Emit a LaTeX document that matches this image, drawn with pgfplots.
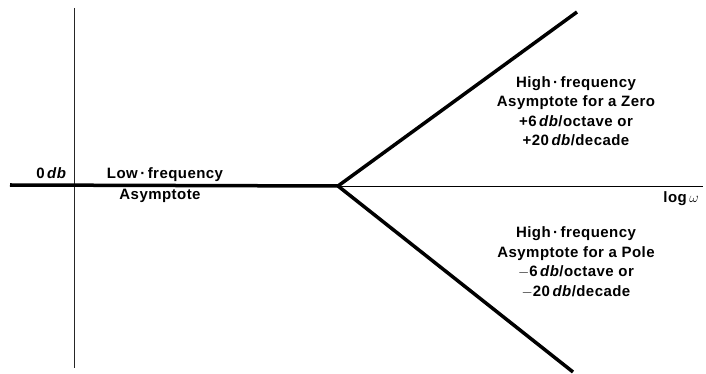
\documentclass[border=0pt]{standalone}
\usepackage{pgfplots}
\pgfplotsset{compat=1.18}
\usepackage{fontspec}
\setmainfont{Liberation Sans}[LetterSpace=3]
\tikzset{lbl/.style={font=\fontsize{15}{19.5}\selectfont\bfseries, text=black}}
\begin{document}
\begin{tikzpicture}
\begin{axis}[
  x=1pt, y=1pt, xmin=0, xmax=706, ymin=0, ymax=374,
  scale only axis, axis lines=none, clip=false
]
\addplot[draw=none] coordinates {(0,0) (706,374)};
% axes
\addplot[black, line width=1pt] coordinates {(10,187) (703,187)};
\addplot[black!85, line width=0.9pt] coordinates {(74,366) (74,6)};
% asymptotes
\addplot[black, line width=3.5pt] coordinates {(10,189) (338,188)};
\addplot[black, line width=3.5pt] coordinates {(338,188) (577,362)};
\addplot[black, line width=3.5pt] coordinates {(338,188) (573,2)};
% labels
\node[lbl, anchor=east] at (axis cs:70,201) {0\,\textit{db}};
\node[lbl] at (axis cs:165,199) {Low\,·\,frequency};
\node[lbl] at (axis cs:160,178) {Asymptote};
\node[lbl, align=center, inner sep=0pt] at (axis cs:576,263) {High\,·\,frequency\\Asymptote for a Zero\\+6\,\textit{db}/octave or\\+20\,\textit{db}/decade};
\node[lbl, align=center, inner sep=0pt] at (axis cs:576,112) {High\,·\,frequency\\Asymptote for a Pole\\$-$6\,\textit{db}/octave or\\$-$20\,\textit{db}/decade};
\node[lbl] at (axis cs:681,175) {log\,$\omega$};
\end{axis}
\end{tikzpicture}
\end{document}
